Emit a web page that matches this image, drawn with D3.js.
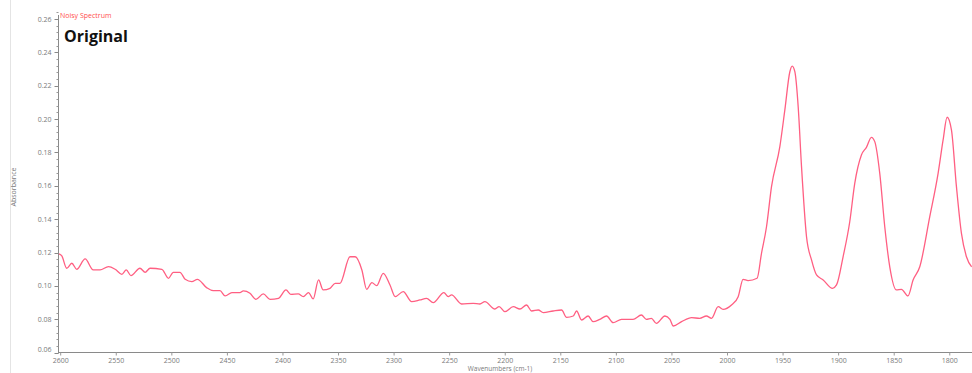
<!DOCTYPE html>
<html><head><meta charset="utf-8">
<script src="https://cdn.jsdelivr.net/npm/d3@7"></script>
<style>
html,body{margin:0;padding:0;background:#fff;}
svg{display:block;font-family:"Open Sans","DejaVu Sans",sans-serif;}
</style></head>
<body><svg id="c" width="972" height="373"></svg>
<script>
const wavenumbers = [2601.5,2599,2594.6,2590,2585.6,2578,2570.7,2564.6,2557,2551,2545,2541,2536.8,2528.7,2524,2519.6,2509,2503,2498.7,2492.7,2488,2482,2477,2468.7,2462.7,2456.7,2452,2446,2438.7,2435.7,2429.7,2424.3,2417.7,2411.7,2404,2397.3,2393,2386.3,2381.7,2377,2372.8,2368,2363.8,2357.7,2353,2348.7,2339.7,2335,2329,2324.7,2320,2315.7,2309.8,2303.7,2299,2291.8,2284.2,2276.8,2270.8,2264.8,2255.2,2251.3,2248.3,2239.3,2228.8,2222.8,2218.3,2209.3,2205.5,2200.3,2192.8,2186.8,2180.8,2176.3,2170.3,2165.8,2156.9,2149.3,2144.8,2138.8,2135.8,2131.3,2125.4,2120.9,2114.9,2108.8,2102.9,2095.4,2085,2077.5,2073,2068.5,2064,2056.3,2051.8,2048.8,2041.3,2032.3,2025,2019,2014.4,2008.4,2004,1996.4,1990.4,1986,1981.5,1973.4,1969.4,1964.9,1960.4,1952.9,1948.4,1943.9,1941.8,1939.4,1936.4,1933.4,1928.9,1924.4,1919.9,1913.9,1905.5,1901.9,1896,1890,1885.5,1879.5,1875,1870.5,1867.5,1863,1858.5,1854,1848,1843.5,1837.6,1833,1827,1818,1810.5,1806,1802.4,1798.5,1794,1789.5,1785,1780.3];
const absorbance = [0.1192,0.118,0.1106,0.1136,0.110,0.1162,0.1096,0.1096,0.1116,0.110,0.107,0.1096,0.1062,0.1106,0.1082,0.1106,0.110,0.1046,0.1082,0.1082,0.104,0.1026,0.104,0.099,0.0972,0.0972,0.094,0.096,0.096,0.097,0.0956,0.092,0.0952,0.092,0.0926,0.0976,0.095,0.0952,0.0936,0.096,0.0922,0.1036,0.0976,0.0986,0.1016,0.1016,0.1175,0.1175,0.1096,0.098,0.102,0.1002,0.1076,0.1006,0.0936,0.0966,0.0906,0.0916,0.0926,0.090,0.096,0.0936,0.0946,0.0892,0.0896,0.0892,0.0906,0.0862,0.0876,0.0846,0.0876,0.0862,0.0886,0.085,0.0856,0.084,0.085,0.0856,0.0812,0.082,0.085,0.0796,0.082,0.0786,0.080,0.082,0.078,0.080,0.080,0.0826,0.080,0.0806,0.0776,0.082,0.080,0.076,0.0786,0.081,0.0806,0.082,0.0806,0.0876,0.086,0.0886,0.0936,0.104,0.1032,0.1046,0.1196,0.1355,0.1595,0.1835,0.2055,0.2284,0.2318,0.2284,0.2074,0.1715,0.1295,0.1156,0.1066,0.1036,0.0986,0.1006,0.1175,0.1385,0.1615,0.1785,0.1831,0.1891,0.1865,0.1675,0.1355,0.1115,0.0976,0.098,0.094,0.1036,0.1115,0.1415,0.1675,0.1875,0.2011,0.1935,0.1595,0.1315,0.1175,0.1115];
const xTicks = [2600,2550,2500,2450,2400,2350,2300,2250,2200,2150,2100,2050,2000,1950,1900,1850,1800];
const yTicks = [0.06,0.08,0.10,0.12,0.14,0.16,0.18,0.20,0.22,0.24,0.26];
const xDomain = [2600,1780];
const yDomain = [0.06,0.26];

const svg = d3.select("#c");
const x = d3.scaleLinear().domain(xDomain).range([60.7,972]);
const y = d3.scaleLinear().domain(yDomain).range([352.7,19]);

svg.append("line").attr("x1",10.5).attr("x2",10.5).attr("y1",0).attr("y2",373).attr("stroke","#e4e4e4").attr("stroke-width",1);

svg.append("clipPath").attr("id","cp").append("rect").attr("x",58).attr("y",0).attr("width",914).attr("height",353);

// y axis
const ya = svg.append("g").attr("transform","translate(58.5,0)");
ya.append("line").attr("x1",0).attr("x2",0).attr("y1",15).attr("y2",353).attr("stroke","#8a8a8a");
const minorY = d3.range(0.06,0.2641,0.004);
ya.selectAll(".mn").data(minorY).join("line").attr("x1",-2).attr("x2",0)
  .attr("y1",d=>Math.round(y(d))+0.5).attr("y2",d=>Math.round(y(d))+0.5).attr("stroke","#999");
ya.selectAll(".mj").data(yTicks).join("line").attr("x1",-4).attr("x2",0)
  .attr("y1",d=>Math.round(y(d))+0.5).attr("y2",d=>Math.round(y(d))+0.5).attr("stroke","#888");
ya.selectAll("text").data(yTicks).join("text").attr("x",-7)
  .attr("y",d=>y(d)+(d===0.06?-1:2.5)).attr("text-anchor","end").attr("font-size",7).attr("fill","#7a7a7a")
  .text(d=>d3.format(".2f")(d));

// x axis
const xa = svg.append("g").attr("transform","translate(0,352.5)");
xa.append("line").attr("x1",58).attr("x2",972).attr("y1",0).attr("y2",0).attr("stroke","#8a8a8a").attr("stroke-width",1.2);
xa.selectAll(".mj").data(xTicks).join("line").attr("x1",d=>x(d)).attr("x2",d=>x(d)).attr("y1",0).attr("y2",3).attr("stroke","#999");
xa.selectAll("text").data(xTicks).join("text").attr("x",d=>x(d)).attr("y",10)
  .attr("text-anchor","middle").attr("font-size",7).attr("fill","#7a7a7a").text(d=>d);

svg.append("text").attr("x",500).attr("y",370.5).attr("text-anchor","middle").attr("font-size",6.5).attr("fill","#7a7a7a").text("Wavenumbers (cm-1)");
svg.append("text").attr("transform","translate(16,187) rotate(-90)").attr("text-anchor","middle").attr("font-size",7).attr("fill","#7a7a7a").text("Absorbance");

svg.append("text").attr("x",60).attr("y",18).attr("font-size",7).attr("fill","#ff4d4d").text("Noisy Spectrum");
svg.append("text").attr("x",64).attr("y",42).attr("font-size",16).attr("font-weight","bold").attr("fill","#111").text("Original");

const pts = wavenumbers.map((w,i)=>[w,absorbance[i]]);
const line = d3.line().x(d=>x(d[0])).y(d=>y(d[1])).curve(d3.curveMonotoneX);
svg.append("path").datum(pts).attr("clip-path","url(#cp)").attr("d",line)
  .attr("fill","none").attr("stroke","#ff5f82").attr("stroke-width",1.3).attr("stroke-linejoin","round");
</script></body></html>
